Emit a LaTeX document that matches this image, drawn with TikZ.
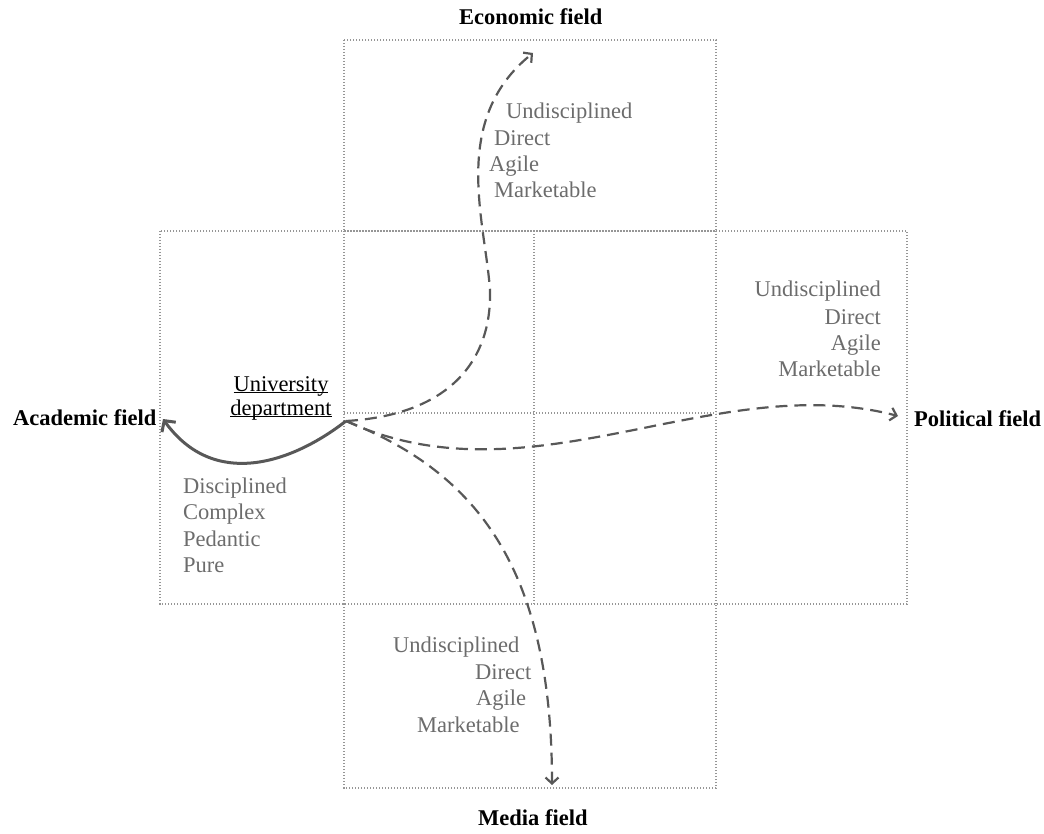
\documentclass[tikz,border=0pt]{standalone}
\usepackage{fontspec}
\setmainfont{Liberation Serif}
\usepackage{xcolor}
\usetikzlibrary{arrows.meta}
\definecolor{traitgray}{RGB}{108,108,108}
\definecolor{linegray}{RGB}{88,88,88}
\definecolor{boxgray}{RGB}{150,150,150}

\begin{document}
\begin{tikzpicture}[x=1pt,y=-1pt,
  every node/.style={font=\fontsize{22.5}{26}\selectfont, inner sep=0pt},
  field/.style={font=\fontsize{22.5}{26}\selectfont\bfseries},
  trait/.style={text=traitgray},
  box/.style={draw=boxgray, line width=1.2pt, dash pattern=on 1.2pt off 1.8pt},
  pull/.style={draw=linegray, line width=2.2pt, dash pattern=on 12pt off 7pt, -{Straight Barb[length=6pt,width=13pt]}},
  home/.style={draw=linegray, line width=3pt, -{Straight Barb[length=8pt,width=17pt]}}]
\useasboundingbox (0,0) rectangle (1044,834);
% the cross of fields
\draw[box] (344,40) rectangle (716,231);
\draw[box] (160,231) rectangle (907,604);
\draw[box] (344,604) rectangle (716,788);
\draw[box] (344,231) -- (344,604);
\draw[box] (716,231) -- (716,604);
\draw[box] (534,231) -- (534,604);
\draw[box] (344,413) -- (716,413);
% field names
\node[field, anchor=base west] (econ) at (459,25) {Economic field};
\node[field, anchor=base west] (acad) at (13,425) {Academic field};
\node[field, anchor=base west] (pol) at (914,426) {Political field};
\node[field, anchor=base west] (media) at (478,825) {Media field};
% the department
\node[anchor=base] (uni) at (281,391) {\underline{\smash{University}}};
\node[anchor=base] (dept) at (281,415) {\underline{\smash{department}}};
% traits
\node[trait, anchor=base west] (econ1) at (506,119) {Undisciplined};
\node[trait, anchor=base west] (econ2) at (494,146) {Direct};
\node[trait, anchor=base west] (econ3) at (489,172) {Agile};
\node[trait, anchor=base west] (econ4) at (494,198) {Marketable};
\node[trait, anchor=base east] (pol1) at (881,297) {Undisciplined};
\node[trait, anchor=base east] (pol2) at (881,324) {Direct};
\node[trait, anchor=base east] (pol3) at (881,350) {Agile};
\node[trait, anchor=base east] (pol4) at (881,376) {Marketable};
\node[trait, anchor=base west] (media1) at (393,652) {Undisciplined};
\node[trait, anchor=base west] (media2) at (475,679) {Direct};
\node[trait, anchor=base west] (media3) at (476,705) {Agile};
\node[trait, anchor=base west] (media4) at (417,732) {Marketable};
\node[trait, anchor=base west] (acad1) at (183,493) {Disciplined};
\node[trait, anchor=base west] (acad2) at (183,519) {Complex};
\node[trait, anchor=base west] (acad3) at (183,546) {Pedantic};
\node[trait, anchor=base west] (acad4) at (183,572) {Pure};
% pulls
\coordinate (d) at (346,421);
\coordinate (acadtip) at (163,419);
\coordinate (econbend) at (490,290);
\coordinate (econtip) at (533,53);
\coordinate (poltip) at (898,416);
\coordinate (mediatip) at (552,785);
\draw[home] (d) .. controls (292,463) and (214,490) .. (acadtip);
\draw[pull] (d) .. controls (450,415) and (492,360) .. (econbend) .. controls (485,220) and (450,120) .. (econtip);
\draw[pull] (d) .. controls (531,506) and (714,368) .. (poltip);
\draw[pull] (d) .. controls (470,470) and (552,560) .. (mediatip);
\end{tikzpicture}
\end{document}
